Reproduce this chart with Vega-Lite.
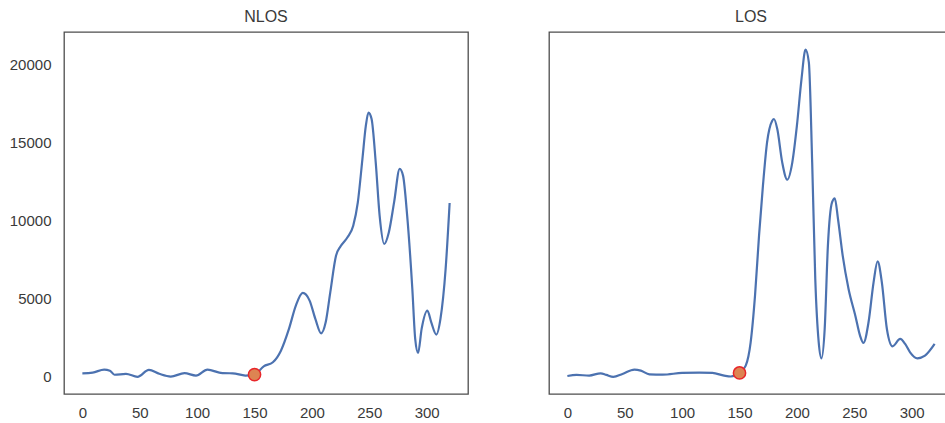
{
  "$schema": "https://vega.github.io/schema/vega-lite/v6.json",
  "background": "white",
  "padding": {"left": 8, "top": 8, "right": 0, "bottom": 5},
  "config": {
    "font": "Liberation Sans",
    "view": {"stroke": "#4d4d4d", "strokeWidth": 1.3},
    "axis": {"grid": false, "domain": false, "ticks": false, "labelFont": "Liberation Sans", "labelFontSize": 15, "labelColor": "#3a3a3a", "title": null},
    "title": {"font": "Liberation Sans", "fontSize": 16, "fontWeight": "normal", "color": "#3a3a3a", "offset": 7}
  },
  "datasets": {
    "curves": [
      {"panel": "NLOS", "x": 0, "y": 234},
      {"panel": "NLOS", "x": 9, "y": 277},
      {"panel": "NLOS", "x": 19, "y": 469},
      {"panel": "NLOS", "x": 24, "y": 400},
      {"panel": "NLOS", "x": 28, "y": 140},
      {"panel": "NLOS", "x": 38, "y": 200},
      {"panel": "NLOS", "x": 48, "y": 10},
      {"panel": "NLOS", "x": 58, "y": 450},
      {"panel": "NLOS", "x": 67, "y": 200},
      {"panel": "NLOS", "x": 77, "y": 25},
      {"panel": "NLOS", "x": 89, "y": 240},
      {"panel": "NLOS", "x": 99, "y": 90},
      {"panel": "NLOS", "x": 109, "y": 469},
      {"panel": "NLOS", "x": 122, "y": 240},
      {"panel": "NLOS", "x": 131, "y": 234},
      {"panel": "NLOS", "x": 142, "y": 90},
      {"panel": "NLOS", "x": 150, "y": 150},
      {"panel": "NLOS", "x": 158, "y": 680},
      {"panel": "NLOS", "x": 166, "y": 940},
      {"panel": "NLOS", "x": 173, "y": 1680},
      {"panel": "NLOS", "x": 180, "y": 3070},
      {"panel": "NLOS", "x": 186, "y": 4560},
      {"panel": "NLOS", "x": 192, "y": 5370},
      {"panel": "NLOS", "x": 198, "y": 4880},
      {"panel": "NLOS", "x": 203, "y": 3710},
      {"panel": "NLOS", "x": 208, "y": 2790},
      {"panel": "NLOS", "x": 212, "y": 3490},
      {"panel": "NLOS", "x": 216, "y": 5410},
      {"panel": "NLOS", "x": 221, "y": 7750},
      {"panel": "NLOS", "x": 225, "y": 8350},
      {"panel": "NLOS", "x": 231, "y": 8930},
      {"panel": "NLOS", "x": 236, "y": 9670},
      {"panel": "NLOS", "x": 240, "y": 11160},
      {"panel": "NLOS", "x": 244, "y": 13930},
      {"panel": "NLOS", "x": 247, "y": 16060},
      {"panel": "NLOS", "x": 249.3, "y": 16900},
      {"panel": "NLOS", "x": 252, "y": 16490},
      {"panel": "NLOS", "x": 255.6, "y": 13720},
      {"panel": "NLOS", "x": 259, "y": 10310},
      {"panel": "NLOS", "x": 263, "y": 8500},
      {"panel": "NLOS", "x": 267, "y": 9240},
      {"panel": "NLOS", "x": 271.6, "y": 11160},
      {"panel": "NLOS", "x": 276.5, "y": 13300},
      {"panel": "NLOS", "x": 279.4, "y": 12870},
      {"panel": "NLOS", "x": 283, "y": 10310},
      {"panel": "NLOS", "x": 287.5, "y": 5620},
      {"panel": "NLOS", "x": 290, "y": 2430},
      {"panel": "NLOS", "x": 292.5, "y": 1530},
      {"panel": "NLOS", "x": 295.6, "y": 3070},
      {"panel": "NLOS", "x": 300.6, "y": 4240},
      {"panel": "NLOS", "x": 304, "y": 3490},
      {"panel": "NLOS", "x": 308.4, "y": 2710},
      {"panel": "NLOS", "x": 312, "y": 3710},
      {"panel": "NLOS", "x": 316.5, "y": 6900},
      {"panel": "NLOS", "x": 320, "y": 11120},
      {"panel": "LOS", "x": 0, "y": 60},
      {"panel": "LOS", "x": 8, "y": 130},
      {"panel": "LOS", "x": 19, "y": 90},
      {"panel": "LOS", "x": 29, "y": 234},
      {"panel": "LOS", "x": 34, "y": 130},
      {"panel": "LOS", "x": 40, "y": 10},
      {"panel": "LOS", "x": 48, "y": 192},
      {"panel": "LOS", "x": 58.4, "y": 469},
      {"panel": "LOS", "x": 64, "y": 405},
      {"panel": "LOS", "x": 71.5, "y": 170},
      {"panel": "LOS", "x": 83, "y": 149},
      {"panel": "LOS", "x": 100, "y": 256},
      {"panel": "LOS", "x": 115, "y": 277},
      {"panel": "LOS", "x": 126.4, "y": 256},
      {"panel": "LOS", "x": 136.6, "y": 85},
      {"panel": "LOS", "x": 142.4, "y": 30},
      {"panel": "LOS", "x": 150, "y": 256},
      {"panel": "LOS", "x": 155.4, "y": 724},
      {"panel": "LOS", "x": 159.7, "y": 2215},
      {"panel": "LOS", "x": 163.5, "y": 5197},
      {"panel": "LOS", "x": 167, "y": 9031},
      {"panel": "LOS", "x": 170.4, "y": 12226},
      {"panel": "LOS", "x": 174, "y": 14995},
      {"panel": "LOS", "x": 178.5, "y": 16380},
      {"panel": "LOS", "x": 180, "y": 16490},
      {"panel": "LOS", "x": 182.9, "y": 15847},
      {"panel": "LOS", "x": 187.2, "y": 13717},
      {"panel": "LOS", "x": 191.6, "y": 12610},
      {"panel": "LOS", "x": 196, "y": 13717},
      {"panel": "LOS", "x": 200, "y": 16060},
      {"panel": "LOS", "x": 204, "y": 19042},
      {"panel": "LOS", "x": 207.5, "y": 20917},
      {"panel": "LOS", "x": 210.4, "y": 20107},
      {"panel": "LOS", "x": 213.3, "y": 13717},
      {"panel": "LOS", "x": 216, "y": 6262},
      {"panel": "LOS", "x": 219, "y": 2215},
      {"panel": "LOS", "x": 221.4, "y": 1193},
      {"panel": "LOS", "x": 224.2, "y": 3067},
      {"panel": "LOS", "x": 227, "y": 8392},
      {"panel": "LOS", "x": 230.6, "y": 11161},
      {"panel": "LOS", "x": 233, "y": 11417},
      {"panel": "LOS", "x": 235.8, "y": 10096},
      {"panel": "LOS", "x": 239.9, "y": 7753},
      {"panel": "LOS", "x": 245, "y": 5623},
      {"panel": "LOS", "x": 250.9, "y": 3919},
      {"panel": "LOS", "x": 255, "y": 2641},
      {"panel": "LOS", "x": 258, "y": 2173},
      {"panel": "LOS", "x": 262.4, "y": 3493},
      {"panel": "LOS", "x": 266.8, "y": 6049},
      {"panel": "LOS", "x": 270.3, "y": 7391},
      {"panel": "LOS", "x": 274, "y": 6049},
      {"panel": "LOS", "x": 278.4, "y": 3067},
      {"panel": "LOS", "x": 283.3, "y": 1960},
      {"panel": "LOS", "x": 290, "y": 2428},
      {"panel": "LOS", "x": 294.3, "y": 2109},
      {"panel": "LOS", "x": 298.6, "y": 1576},
      {"panel": "LOS", "x": 305, "y": 1193},
      {"panel": "LOS", "x": 311.6, "y": 1363},
      {"panel": "LOS", "x": 320, "y": 2109}
    ],
    "markers": [
      {"panel": "NLOS", "x": 150, "y": 150},
      {"panel": "LOS", "x": 150, "y": 256}
    ]
  },
  "hconcat": [
    {
      "title": "NLOS",
      "width": 404,
      "height": 362,
      "layer": [
        {
          "data": {"name": "curves"},
          "transform": [{"filter": "datum.panel === 'NLOS'"}],
          "mark": {"type": "line", "color": "#4c72b0", "strokeWidth": 2.2, "interpolate": "monotone"},
          "encoding": {
            "x": {"field": "x", "type": "quantitative", "scale": {"domain": [-16, 336], "nice": false, "zero": false}, "axis": {"values": [0, 50, 100, 150, 200, 250, 300], "labelPadding": 11}},
            "y": {"field": "y", "type": "quantitative", "scale": {"domain": [-1090, 22050], "nice": false, "zero": false}, "axis": {"values": [0, 5000, 10000, 15000, 20000], "format": "d", "labelPadding": 13}}
          }
        },
        {
          "data": {"name": "markers"},
          "transform": [{"filter": "datum.panel === 'NLOS'"}],
          "mark": {"type": "point", "filled": true, "fill": "#dd8452", "stroke": "#e8262a", "strokeWidth": 1.5, "size": 150, "opacity": 1},
          "encoding": {
            "x": {"field": "x", "type": "quantitative"},
            "y": {"field": "y", "type": "quantitative"}
          }
        }
      ]
    },
    {
      "title": "LOS",
      "width": 404,
      "height": 362,
      "layer": [
        {
          "data": {"name": "curves"},
          "transform": [{"filter": "datum.panel === 'LOS'"}],
          "mark": {"type": "line", "color": "#4c72b0", "strokeWidth": 2.2, "interpolate": "monotone"},
          "encoding": {
            "x": {"field": "x", "type": "quantitative", "scale": {"domain": [-16, 336], "nice": false, "zero": false}, "axis": {"values": [0, 50, 100, 150, 200, 250, 300], "labelPadding": 11}},
            "y": {"field": "y", "type": "quantitative", "scale": {"domain": [-1090, 22050], "nice": false, "zero": false}, "axis": null}
          }
        },
        {
          "data": {"name": "markers"},
          "transform": [{"filter": "datum.panel === 'LOS'"}],
          "mark": {"type": "point", "filled": true, "fill": "#dd8452", "stroke": "#e8262a", "strokeWidth": 1.5, "size": 150, "opacity": 1},
          "encoding": {
            "x": {"field": "x", "type": "quantitative"},
            "y": {"field": "y", "type": "quantitative"}
          }
        }
      ]
    }
  ],
  "spacing": 79
}
